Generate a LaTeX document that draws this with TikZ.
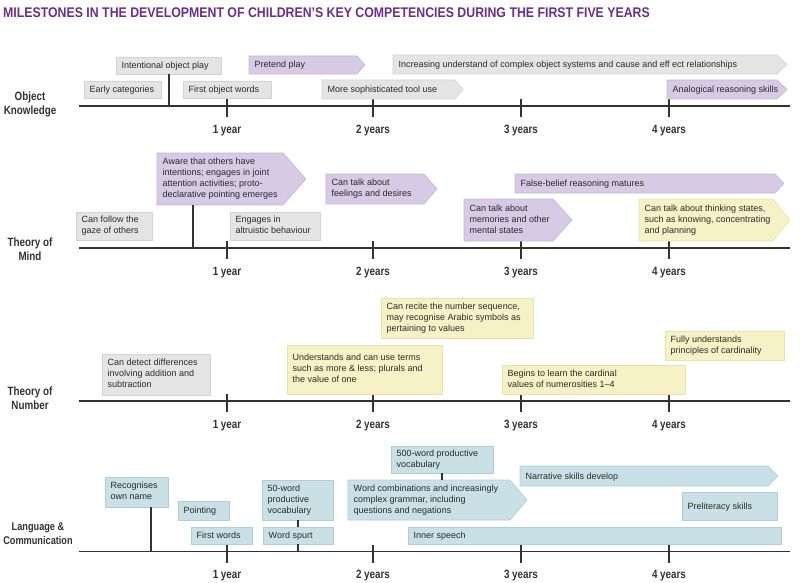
\documentclass[tikz,border=0pt]{standalone}
\usepackage{fontspec}
\setmainfont{Liberation Sans}
\newfontfamily\condfont[FakeStretch=0.82]{Liberation Sans}
\newfontfamily\titlefont[FakeStretch=0.88]{Liberation Sans}
\definecolor{titlec}{HTML}{6B2F8A}
\definecolor{textc}{HTML}{2B2B2B}
\definecolor{greyf}{HTML}{E4E4E4}
\definecolor{greyd}{HTML}{D3D3D3}
\definecolor{purpf}{HTML}{D6CAE5}
\definecolor{purpd}{HTML}{C6B7DA}
\definecolor{yelf}{HTML}{F7F1C6}
\definecolor{yeld}{HTML}{EAE2AE}
\definecolor{tealf}{HTML}{C9E1E6}
\definecolor{teald}{HTML}{AFCFD6}
\definecolor{linec}{HTML}{333333}
\tikzset{
  frame/.style={shape=rectangle, inner sep=0pt, outer sep=0pt},
  txt/.style={font=\fontsize{9}{11}\selectfont, text=textc, inner sep=0pt, align=left,
    execute at begin node=\strut, execute at end node=\strut},
  gbox/.style={fill=greyf, draw=greyd, line width=0.6pt},
  pbox/.style={fill=purpf, draw=purpd, line width=0.6pt},
  ybox/.style={fill=yelf, draw=yeld, line width=0.6pt},
  tbox/.style={fill=tealf, draw=teald, line width=0.6pt},
  axisline/.style={draw=linec, line width=1.4pt},
  tickline/.style={draw=linec, line width=1.4pt},
  conn/.style={draw=linec, line width=1.4pt},
  yearlbl/.style={font=\condfont\fontsize{12}{14}\selectfont\bfseries, text=linec, inner sep=0pt},
  rowlbl/.style={font=\condfont\fontsize{12}{14}\selectfont\bfseries, text=linec, inner sep=0pt, align=center},
  titlelbl/.style={font=\titlefont\fontsize{14}{16}\selectfont\bfseries, text=titlec, inner sep=0pt},
}
% rectangular milestone: style, name, x1, y1, x2, y2, text
\newcommand\msbox[7]{%
  \pgfmathsetmacro\msw{#5-#3}\pgfmathsetmacro\msh{#6-#4}%
  \node[frame, anchor=north west, minimum width=\msw pt, minimum height=\msh pt] (#2) at (#3,#4) {};
  \path[#1] (#2.north west) rectangle (#2.south east);
  \node[txt, anchor=west] (#2-t) at ([xshift=5.5pt,yshift=-0.8pt]#2.west) {#7};}
% arrow milestone: style, name, x1, y1, x2 (body end), y2, tip x, text
\newcommand\msarrow[8]{%
  \pgfmathsetmacro\msw{#5-#3}\pgfmathsetmacro\msh{#6-#4}\pgfmathsetmacro\mstip{#7-#5}%
  \node[frame, anchor=north west, minimum width=\msw pt, minimum height=\msh pt] (#2) at (#3,#4) {};
  \path[#1] (#2.north west) -- (#2.north east) -- ([xshift=\mstip pt]#2.east) -- (#2.south east) -- (#2.south west) -- cycle;
  \node[txt, anchor=west] (#2-t) at ([xshift=5.5pt,yshift=-0.8pt]#2.west) {#8};}
% timeline: name, y
\newcommand\axisrow[2]{%
  \coordinate (#1-s) at (79,#2);
  \coordinate (#1-e) at (790,#2);
  \draw[axisline] (#1-s) -- (#1-e);
  \foreach \xx/\lab [count=\ii] in {227/1 year,373/2 years,521/3 years,669/4 years}{
    \coordinate (#1-k\ii) at (\xx,#2);
    \node[yearlbl] (#1-y\ii) at (\xx,#2+24.5) {\lab};
    \draw[tickline] ([yshift=7pt]#1-k\ii) -- ([yshift=-11pt]#1-k\ii);
  }}
\begin{document}
\begin{tikzpicture}[x=1pt,y=-1pt]
\useasboundingbox (0,0) rectangle (800,583);
\fill[white] (0,0) rectangle (800,583);

\node[titlelbl, anchor=west] (title) at (3,13) {MILESTONES IN THE DEVELOPMENT OF CHILDREN’S KEY COMPETENCIES DURING THE FIRST FIVE YEARS};

% ---------- Object knowledge ----------
\node[rowlbl] (r1) at (30,104) {Object\\Knowledge};
\axisrow{a1}{106}
\msbox{gbox}{iop}{116}{57}{221}{74}{Intentional object play}
\msarrow{pbox}{pp}{249}{56}{357}{74}{365}{Pretend play}
\msarrow{gbox}{inc}{393}{55}{777}{74}{787}{Increasing understand of complex object systems and cause and eff ect relationships}
\msbox{gbox}{ec}{84}{81}{161}{98}{Early categories}
\msbox{gbox}{fow}{183}{81}{271}{98}{First object words}
\msarrow{gbox}{mst}{322}{80}{455}{99}{463}{More sophisticated tool use}
\msarrow{pbox}{ars}{667}{80}{777}{99}{787}{Analogical reasoning skills}
\coordinate (c1) at (169,106);
\draw[conn] (iop.south -| c1) -- (c1);

% ---------- Theory of mind ----------
\node[rowlbl] (r2) at (30,249) {Theory of\\Mind};
\axisrow{a2}{248}
\msarrow{pbox}{aware}{157}{153}{283}{205}{306}{Aware that others have\\intentions; engages in joint\\attention activities; proto-\\declarative pointing emerges}
\msbox{gbox}{gaze}{76}{212}{152}{240}{Can follow the\\gaze of others}
\msbox{gbox}{alt}{230}{212}{320}{240}{Engages in\\altruistic behaviour}
\msarrow{pbox}{feel}{326}{174}{424}{204}{437}{Can talk about\\feelings and desires}
\msarrow{pbox}{fb}{515}{174}{775}{193}{784}{False-belief reasoning matures}
\msarrow{pbox}{mem}{464}{199}{553}{241}{572}{Can talk about\\memories and other\\mental states}
\msarrow{ybox}{think}{639}{199}{773}{241}{790}{Can talk about thinking states,\\such as knowing, concentrating\\and planning}
\coordinate (c2) at (193,248);
\draw[conn] (aware.south -| c2) -- (c2);

% ---------- Theory of number ----------
\node[rowlbl] (r3) at (30,398.5) {Theory of\\Number};
\axisrow{a3}{401}
\msbox{gbox}{det}{102}{354}{210}{395}{Can detect differences\\involving addition and\\subtraction}
\msbox{ybox}{und}{287}{345}{442}{394}{Understands and can use terms\\such as more \& less; plurals and\\the value of one}
\msbox{ybox}{rec}{381}{298}{533}{338}{Can recite the number sequence,\\may recognise Arabic symbols as\\pertaining to values}
\msbox{ybox}{beg}{502}{365}{685}{394}{Begins to learn the cardinal\\values of numerosities 1--4}
\msbox{ybox}{full}{665}{331}{784}{360}{Fully understands\\principles of cardinality}

% ---------- Language & communication ----------
\node[rowlbl, font=\condfont\fontsize{11.2}{14}\selectfont\bfseries] (r4) at (38,534) {Language \&\\Communication};
\axisrow{a4}{551.5}
\msbox{tbox}{own}{105}{477}{168}{507}{Recognises\\own name}
\msbox{tbox}{point}{178}{501}{229}{520}{Pointing}
\msbox{tbox}{fw}{191}{527}{252}{544}{First words}
\msbox{tbox}{w50}{262}{480}{333}{520}{50-word\\productive\\vocabulary}
\msbox{tbox}{spurt}{263}{527}{333}{544}{Word spurt}
\msbox{tbox}{w500}{391}{446}{493}{473}{500-word productive\\vocabulary}
\msarrow{tbox}{comb}{348}{480}{510}{520}{527}{Word combinations and increasingly\\complex grammar, including\\questions and negations}
\msarrow{tbox}{narr}{520}{466}{768}{486}{778}{Narrative skills develop}
\msbox{tbox}{prelit}{682}{492}{777}{520}{Preliteracy skills}
\msbox{tbox}{inner}{408}{527}{781}{544}{Inner speech}
\coordinate (c4a) at (151,551.5);
\coordinate (c4b) at (298,551.5);
\coordinate (c4c) at (442,480);
\draw[conn] (own.south -| c4a) -- (c4a);
\draw[conn] (w50.south -| c4b) -- (spurt.north -| c4b);
\draw[conn] (spurt.south -| c4b) -- (c4b);
\draw[conn] (w500.south -| c4c) -- (comb.north -| c4c);
\end{tikzpicture}
\end{document}
